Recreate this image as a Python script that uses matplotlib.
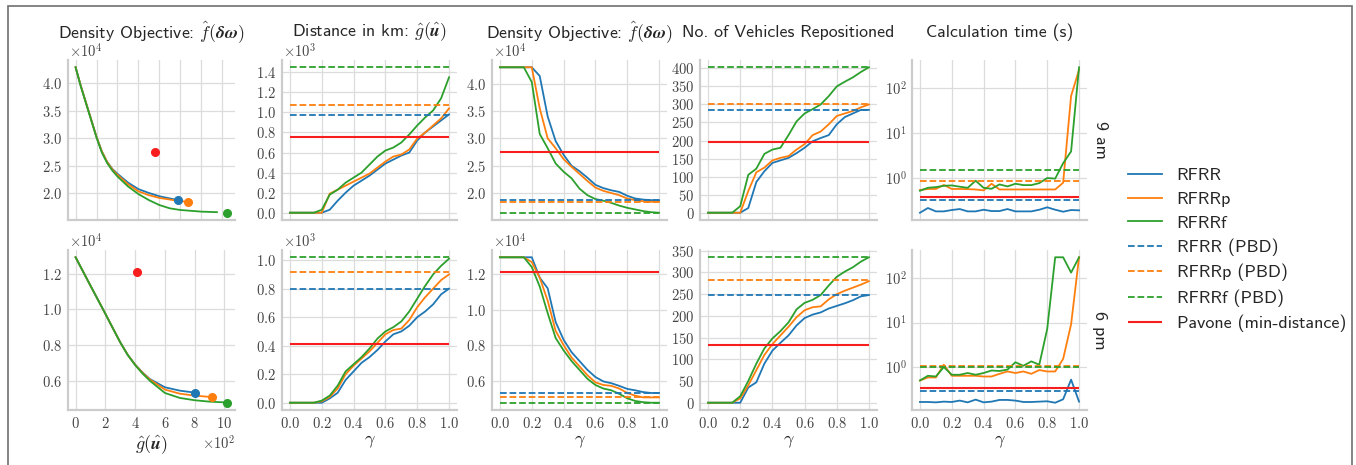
import matplotlib

# headless backend, we only need the png
matplotlib.use('Agg')
import matplotlib.pyplot as plt
from matplotlib.ticker import MultipleLocator, ScalarFormatter, FixedLocator, NullLocator
from matplotlib.patches import Rectangle

# ---- data ---------------------------------------------------------------
gamma = [0.0, 0.05, 0.1, 0.15, 0.2, 0.25, 0.3, 0.35, 0.4, 0.45, 0.5,
         0.55, 0.6, 0.65, 0.7, 0.75, 0.8, 0.85, 0.9, 0.95, 1.0]
methods = ["RFRR", "RFRRp", "RFRRf"]

# 9 am: trade-off fronts (distance km, density)
front_g_am = {
    "RFRR": [0, 50, 100, 150, 200, 250, 300, 350, 400, 500, 600, 700, 800, 900, 977],
    "RFRRp": [0, 50, 100, 150, 200, 250, 300, 350, 400, 500, 600, 700, 800, 900, 1000, 1040],
    "RFRRf": [0, 50, 100, 150, 200, 250, 300, 350, 400, 500, 600, 700, 800, 900, 1000, 1200, 1350],
}
front_f_am = {
    "RFRR": [42900, 39500, 36400, 33300, 30200, 27600, 25700, 24400, 23500, 21900, 20700, 20000,
             19400, 19000, 18700],
    "RFRRp": [42900, 39500, 36400, 33300, 30200, 27600, 25700, 24300, 23300, 21600, 20300, 19600,
              19100, 18800, 18500, 18450],
    "RFRRf": [42900, 39400, 36300, 33200, 30100, 27400, 25500, 24100, 23000, 21200, 19800, 18700,
              17800, 17200, 16900, 16600, 16500],
}
dist_am = {
    "RFRR": [0, 0, 0, 0, 0, 30, 120, 200, 270, 320, 370, 430, 490, 530, 570, 600, 720, 800, 860, 920, 980],
    "RFRRp": [0, 0, 0, 0, 0, 190, 230, 270, 310, 350, 390, 450, 510, 560, 580, 630, 740, 800, 870, 940, 1040],
    "RFRRf": [0, 0, 0, 0, 30, 180, 230, 300, 350, 400, 480, 560, 620, 650, 700, 780, 870, 950, 1020, 1140, 1350],
}
dens_am = {
    "RFRR": [43000, 43000, 43000, 43000, 43000, 41400, 34000, 29500, 27000, 25000, 24000, 22800, 21500,
             20900, 20500, 20200, 19500, 19000, 18800, 18700, 18700],
    "RFRRp": [43000, 43000, 43000, 43000, 43000, 35500, 30000, 28200, 26200, 24800, 23500, 22200, 21000,
              20400, 20000, 19600, 19000, 18700, 18500, 18400, 18400],
    "RFRRf": [43000, 43000, 43000, 43000, 40300, 30800, 28200, 25400, 23900, 22700, 20800, 19600, 18900,
              18600, 18200, 17700, 17300, 17000, 16700, 16500, 16400],
}
veh_am = {
    "RFRR": [0, 0, 0, 0, 0, 13, 85, 115, 138, 145, 152, 165, 180, 198, 207, 215, 245, 265, 275, 285, 285],
    "RFRRp": [0, 0, 0, 0, 0, 60, 112, 125, 145, 152, 157, 175, 190, 215, 225, 245, 268, 275, 282, 292, 300],
    "RFRRf": [0, 0, 0, 0, 18, 105, 122, 163, 175, 180, 215, 253, 275, 287, 300, 323, 350, 363, 375, 390, 403],
}
time_am = {
    "RFRR": [0.168, 0.214, 0.18, 0.18, 0.193, 0.203, 0.18, 0.18, 0.196, 0.183, 0.183, 0.203, 0.18, 0.18,
             0.18, 0.196, 0.222, 0.196, 0.177, 0.193, 0.19],
    "RFRRp": [0.54, 0.57, 0.57, 0.70, 0.57, 0.57, 0.565, 0.555, 0.53, 0.745, 0.555, 0.555, 0.555, 0.555,
              0.555, 0.555, 0.555, 0.555, 0.785, 68, 260],
    "RFRRf": [0.52, 0.605, 0.627, 0.67, 0.684, 0.64, 0.605, 0.87, 0.605, 0.575, 0.72, 0.65, 0.745, 0.695,
              0.695, 0.77, 1.0, 0.97, 2.14, 3.93, 297],
}
pbd_am = {"dist": [977, 1077, 1450], "dens": [18700, 18400, 16400],
          "veh": [285, 300, 403], "time": [0.33, 0.87, 1.54]}
pavone_am = {"dist": 755, "dens": 27500, "veh": 197, "time": 0.38}

# 6 pm
front_g_pm = {
    "RFRR": [0, 50, 100, 150, 200, 250, 300, 350, 400, 450, 500, 600, 700, 800],
    "RFRRp": [0, 50, 100, 150, 200, 250, 300, 350, 400, 450, 500, 600, 700, 800, 900],
    "RFRRf": [0, 50, 100, 150, 200, 250, 300, 350, 400, 450, 500, 600, 700, 800, 900, 1000, 1010],
}
front_f_pm = {
    "RFRR": [12940, 12140, 11340, 10550, 9760, 8950, 8150, 7450, 6900, 6450, 6080, 5620, 5430, 5320],
    "RFRRp": [12940, 12140, 11340, 10550, 9760, 8950, 8150, 7450, 6890, 6430, 6050, 5490, 5260,
              5150, 5080],
    "RFRRf": [12940, 12140, 11340, 10550, 9760, 8950, 8150, 7440, 6870, 6390, 5980, 5300, 5020,
              4890, 4810, 4770, 4770],
}
dist_pm = {
    "RFRR": [0, 0, 0, 0, 0, 30, 70, 160, 220, 280, 320, 370, 430, 480, 500, 540, 600, 640, 690, 760, 800],
    "RFRRp": [0, 0, 0, 0, 10, 40, 100, 200, 260, 310, 360, 420, 480, 510, 520, 580, 670, 740, 800, 860, 900],
    "RFRRf": [0, 0, 0, 0, 15, 50, 120, 220, 270, 320, 380, 450, 500, 530, 570, 640, 730, 820, 900, 960, 1010],
}
dens_pm = {
    "RFRR": [12950, 12950, 12950, 12950, 12950, 11800, 11200, 9300, 8300, 7600, 7100, 6600, 6200, 5950,
             5850, 5700, 5530, 5450, 5350, 5300, 5300],
    "RFRRp": [12950, 12950, 12950, 12950, 12680, 11800, 10500, 8800, 8000, 7300, 6800, 6300, 5900, 5750,
              5700, 5550, 5300, 5150, 5050, 5050, 5050],
    "RFRRf": [12950, 12950, 12950, 12950, 12400, 11300, 9800, 8400, 7700, 7100, 6600, 6100, 5750, 5550,
              5450, 5250, 5000, 4850, 4780, 4750, 4750],
}
veh_pm = {
    "RFRR": [0, 0, 0, 0, 0, 35, 47, 90, 120, 138, 155, 178, 195, 203, 208, 217, 223, 229, 236, 245, 248],
    "RFRRp": [0, 0, 0, 0, 10, 40, 75, 110, 135, 155, 175, 197, 213, 220, 222, 238, 250, 258, 265, 272, 280],
    "RFRRf": [0, 0, 0, 0, 15, 50, 90, 125, 148, 165, 185, 215, 230, 237, 248, 270, 290, 302, 312, 325, 335],
}
time_pm = {
    "RFRR": [0.159, 0.159, 0.156, 0.162, 0.159, 0.171, 0.156, 0.18, 0.156, 0.162, 0.177, 0.177, 0.171,
             0.159, 0.159, 0.162, 0.165, 0.153, 0.183, 0.51, 0.162],
    "RFRRp": [0.488, 0.571, 0.571, 1.11, 0.623, 0.623, 0.623, 0.623, 0.6, 0.6, 0.69, 0.78, 0.72, 0.78,
              0.69, 0.84, 0.78, 0.78, 1.5, 9.1, 300],
    "RFRRf": [0.488, 0.623, 0.6, 0.98, 0.657, 0.657, 0.72, 0.657, 0.72, 0.82, 0.8, 0.86, 1.26, 1.05,
              1.32, 1.11, 7.2, 300, 300, 135, 300],
}
pbd_pm = {"dist": [800, 915, 1020], "dens": [5300, 5050, 4750],
          "veh": [248, 283, 335], "time": [0.283, 1.05, 1.0]}
pavone_pm = {"dist": 410, "dens": 12100, "veh": 132, "time": 0.338}

col_titles = [r"Density Objective: $\hat{f}(\boldsymbol{\delta\omega})$",
              r"Distance in km: $\hat{g}(\hat{\boldsymbol{u}})$",
              r"Density Objective: $\hat{f}(\boldsymbol{\delta\omega})$",
              "No. of Vehicles Repositioned",
              "Calculation time (s)"]
row_labels = ["9 am", "6 pm"]

colors = {"RFRR": "#1f77b4", "RFRRp": "#ff7f0e", "RFRRf": "#2ca02c"}
red = "#f81e1e"

# ---- style --------------------------------------------------------------
plt.rcParams.update({
    "font.family": "cmr10",
    "mathtext.fontset": "cm",
    "axes.formatter.use_mathtext": True,
    "axes.unicode_minus": False,
})
SANS = "cmss10"
TXT = "#262626"
TICK = "#444444"
LW = 1.3

W, H = 1356, 465
fig = plt.figure(figsize=(W / 100, H / 100), dpi=100)

col_x = [(68, 167), (282, 175), (492, 175), (700, 177), (912, 175)]
row_y = [(60, 160), (250, 160)]


def make_ax(c, r):
    x0, w = col_x[c]
    y0, h = row_y[r]
    ax = fig.add_axes([x0 / W, 1 - (y0 + h) / H, w / W, h / H])
    for s in ["top", "right"]:
        ax.spines[s].set_visible(False)
    for s in ["left", "bottom"]:
        ax.spines[s].set_color("#cccccc")
        ax.spines[s].set_linewidth(1.6)
    ax.grid(True, color="#dcdcdc", lw=0.9)
    ax.set_axisbelow(True)
    ax.tick_params(length=0, labelsize=10.5, labelcolor=TICK, pad=4)
    return ax


def sci_y(ax, power):
    # fixed scaling, offset label drawn by hand just above the axes
    fmt = ScalarFormatter(useMathText=True)
    fmt.set_powerlimits((power, power))
    ax.yaxis.set_major_formatter(fmt)
    ax.yaxis.get_offset_text().set_visible(False)
    ax.annotate(r"$\times\mathdefault{10^{%d}}$" % power, xy=(0, 1), xycoords="axes fraction",
                xytext=(1, 1.5), textcoords="offset points", ha="left", va="baseline",
                fontsize=10.5, color=TICK)


data = [(front_g_am, front_f_am, dist_am, dens_am, veh_am, time_am, pbd_am, pavone_am),
        (front_g_pm, front_f_pm, dist_pm, dens_pm, veh_pm, time_pm, pbd_pm, pavone_pm)]

handles = []
for r, (fg, ff, dist, dens, veh, tim, pbd, pav) in enumerate(data):
    axes = [make_ax(c, r) for c in range(5)]

    # column 1: trade-off curve density vs distance
    ax = axes[0]
    for m in methods:
        ax.plot(fg[m], ff[m], color=colors[m], lw=LW)
    for i, m in enumerate(methods):
        ax.plot(pbd["dist"][i], pbd["dens"][i], "o", color=colors[m], ms=5.5, zorder=4)
    ax.plot(pav["dist"], pav["dens"], "o", color=red, ms=5.5, zorder=4)
    ax.xaxis.set_major_locator(MultipleLocator(200))
    ax.yaxis.set_major_locator(MultipleLocator(5000 if r == 0 else 2000))
    sci_y(ax, 4)
    xfmt = ScalarFormatter(useMathText=True)
    xfmt.set_powerlimits((2, 2))
    ax.xaxis.set_major_formatter(xfmt)
    ax.xaxis.get_offset_text().set_fontsize(10.5)
    ax.xaxis.get_offset_text().set_color(TICK)
    if r == 0:
        ax.tick_params(labelbottom=False)
    else:
        ax.set_xlabel(r"$\hat{g}(\hat{\boldsymbol{u}})$", fontsize=13, color=TXT, labelpad=2)

    # columns 2-5: against gamma
    series = [dist, dens, veh, tim]
    keys = ["dist", "dens", "veh", "time"]
    for k, ax in enumerate(axes[1:]):
        vals = series[k]
        for m in methods:
            ln, = ax.plot(gamma, vals[m], color=colors[m], lw=LW, label=m)
            if r == 0 and k == 0:
                handles.append(ln)
        for i, m in enumerate(methods):
            ln = ax.hlines(pbd[keys[k]][i], gamma[0], gamma[-1], color=colors[m], lw=LW,
                           linestyles="--", label=m + " (PBD)")
            if r == 0 and k == 0:
                handles.append(ln)
        ln = ax.hlines(pav[keys[k]], gamma[0], gamma[-1], color=red, lw=LW + 0.2,
                       label="Pavone (min-distance)")
        if r == 0 and k == 0:
            handles.append(ln)
        ax.xaxis.set_major_locator(MultipleLocator(0.2))
        if r == 0:
            ax.tick_params(labelbottom=False)
        else:
            ax.set_xlabel(r"$\gamma$", fontsize=13, color=TXT, labelpad=2)

    ax = axes[1]
    ax.yaxis.set_major_locator(MultipleLocator(200))
    sci_y(ax, 3)
    ax = axes[2]
    ax.yaxis.set_major_locator(MultipleLocator(5000 if r == 0 else 2000))
    sci_y(ax, 4)
    axes[3].yaxis.set_major_locator(MultipleLocator(50))
    ax = axes[4]
    ax.set_yscale("log")
    ax.yaxis.set_major_locator(FixedLocator([1, 10, 100]))
    ax.yaxis.set_minor_locator(NullLocator())

    x0, w = col_x[4]
    y0, h = row_y[r]
    fig.text((x0 + w + 13) / W, 1 - (y0 + h / 2) / H, row_labels[r], rotation=-90,
             ha="center", va="center", fontsize=13, color=TXT, family=SANS)

for c, t in enumerate(col_titles):
    x0, w = col_x[c]
    fig.text((x0 + w / 2) / W, 1 - 32 / H, t, ha="center", va="center",
             fontsize=12.8, color=TXT, family=SANS)

leg = fig.legend(handles=handles, loc="center left", bbox_to_anchor=(1128 / W, 1 - 250 / H),
                 frameon=False, borderpad=0, borderaxespad=0,
                 handlelength=1.9, handletextpad=0.8, labelspacing=0.44,
                 prop={"family": SANS, "size": 13})
for t in leg.get_texts():
    t.set_color(TXT)

# grey frame around the whole figure (open at the bottom)
fig.patches.append(Rectangle((8 / W, -0.02), (1352 - 8) / W, 1 - 6 / H + 0.02,
                             transform=fig.transFigure, fill=False,
                             edgecolor="#707070", lw=1.2))

fig.savefig("out.png", dpi=100)
